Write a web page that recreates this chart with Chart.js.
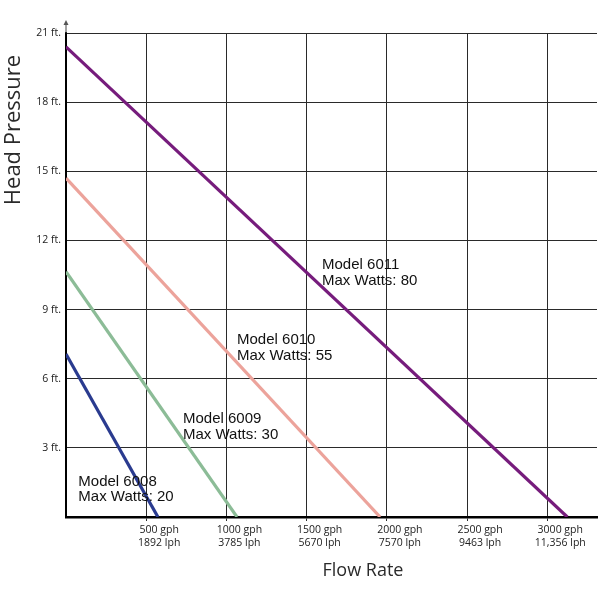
<!DOCTYPE html>
<html>
<head>
<meta charset="utf-8">
<script src="https://cdn.jsdelivr.net/npm/chart.js@4.4.1/dist/chart.umd.min.js"></script>
<style>
html,body{margin:0;padding:0;background:#fff;}
#wrap{width:600px;height:600px;}
</style>
</head>
<body>
<div id="wrap"><canvas id="c" width="600" height="600"></canvas></div>
<script>
// ---- data ----
const modelNames = ['Model 6008', 'Model 6009', 'Model 6010', 'Model 6011'];
const maxWatts = [20, 30, 55, 80];
const shutoffHeadFt = [7.07, 10.64, 14.7, 20.4];   // head at 0 flow
const maxFlowGph = [573, 1066, 1958, 3125];         // flow at 0 head
const lineColors = ['#2a3b8f', '#8cbc97', '#eca39b', '#761c7c'];
const xTickGph = [500, 1000, 1500, 2000, 2500, 3000];
const xTickLph = ['1892 lph', '3785 lph', '5670 lph', '7570 lph', '9463 lph', '11,356 lph'];
const yTickFt = [3, 6, 9, 12, 15, 18, 21];
// label anchors (data units: gph, ft of first-line baseline)
const labelAtGph = [77, 729, 1066, 1596];
const labelAtFt = [1.35, 4.06, 7.5, 10.76];

const datasets = modelNames.map((name, i) => ({
  label: name,
  data: [{x: 0, y: shutoffHeadFt[i]}, {x: maxFlowGph[i], y: 0}],
  borderColor: lineColors[i],
  backgroundColor: lineColors[i],
  borderWidth: 3.2,
  pointRadius: 0,
  tension: 0
}));

const annotate = {
  id: 'annotate',
  afterDatasetsDraw(chart) {
    const {ctx, scales: {x, y}, chartArea} = chart;
    ctx.save();
    // model labels
    ctx.fillStyle = '#111';
    ctx.font = '15px "Liberation Sans", Arial, sans-serif';
    ctx.textAlign = 'left';
    ctx.textBaseline = 'alphabetic';
    modelNames.forEach((n, i) => {
      const px = x.getPixelForValue(labelAtGph[i]);
      const py = y.getPixelForValue(labelAtFt[i]);
      ctx.fillText(n, px, py);
      ctx.fillText('Max Watts: ' + maxWatts[i], px, py + 15.5);
    });
    // y axis arrow
    const ax = chartArea.left;
    ctx.strokeStyle = '#444';
    ctx.lineWidth = 1;
    ctx.beginPath();
    ctx.moveTo(ax, chartArea.top);
    ctx.lineTo(ax, chartArea.top - 10);
    ctx.stroke();
    ctx.fillStyle = '#555';
    ctx.beginPath();
    ctx.moveTo(ax, chartArea.top - 13);
    ctx.lineTo(ax - 2.5, chartArea.top - 8);
    ctx.lineTo(ax + 2.5, chartArea.top - 8);
    ctx.closePath();
    ctx.fill();
    // axis titles
    ctx.fillStyle = '#2a2a2a';
    ctx.font = '22px "Open Sans", sans-serif';
    ctx.textAlign = 'center';
    ctx.textBaseline = 'middle';
    ctx.save();
    ctx.translate(14, 130);
    ctx.rotate(-Math.PI / 2);
    ctx.fillText('Head Pressure', 0, 0);
    ctx.restore();
    ctx.font = '18px "Open Sans", sans-serif';
    ctx.fillText('Flow Rate', 363, 571);
    ctx.restore();
  }
};

new Chart(document.getElementById('c'), {
  type: 'line',
  data: {datasets},
  plugins: [annotate],
  options: {
    responsive: false,
    animation: false,
    layout: {padding: {top: 33, right: 3, left: 0, bottom: 0}},
    plugins: {legend: {display: false}, tooltip: {enabled: false}},
    scales: {
      x: {
        type: 'linear',
        min: 0,
        max: 3310,
        afterBuildTicks(s) { s.ticks = xTickGph.map(v => ({value: v})); },
        afterFit(s) { s.height = 83; },
        ticks: {
          color: '#222',
          font: {family: '"Open Sans", sans-serif', size: 10.5},
          padding: 3,
          labelOffset: 13,
          maxRotation: 0,
          autoSkip: false,
          callback(v) {
            const i = xTickGph.indexOf(v);
            return [v + ' gph', xTickLph[i]];
          }
        },
        grid: {color: '#2a2a2a', lineWidth: 1, tickLength: 4, drawOnChartArea: true},
        border: {display: true, color: '#000', width: 2.5}
      },
      y: {
        type: 'linear',
        min: 0,
        max: 21,
        afterBuildTicks(s) { s.ticks = yTickFt.map(v => ({value: v})); },
        afterFit(s) { s.width = 66; },
        ticks: {
          color: '#222',
          font: {family: '"Open Sans", sans-serif', size: 10.5},
          padding: 5,
          callback(v) { return v + ' ft.'; }
        },
        grid: {color: '#2a2a2a', lineWidth: 1, tickLength: 0},
        border: {display: true, color: '#000', width: 2}
      }
    }
  }
});
</script>
</body>
</html>
